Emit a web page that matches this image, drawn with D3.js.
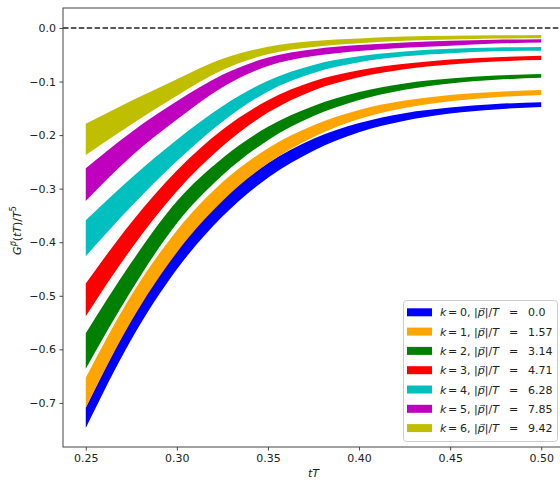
<!DOCTYPE html>
<html>
<head>
<meta charset="utf-8">
<script src="https://cdn.jsdelivr.net/npm/d3@7"></script>
<style>
body { margin: 0; background: #fff; }
svg { display: block; font-family: "DejaVu Sans", sans-serif; }
</style>
</head>
<body>
<div id="chart"></div>
<script>
var tT = [0.25, 0.275, 0.30, 0.325, 0.35, 0.375, 0.40, 0.425, 0.45, 0.475, 0.50];
var kValues = [0, 1, 2, 3, 4, 5, 6];
var pLabels = ["0.0", "1.57", "3.14", "4.71", "6.28", "7.85", "9.42"];
var colors = ["#0000ff", "#ffa500", "#008000", "#ff0000", "#00bfbf", "#bf00bf", "#bfbf00"];
// upper edge of each band (k = 0..6)
var bandTop = [
  [-0.709, -0.5445, -0.4155, -0.320, -0.2525, -0.207, -0.1775, -0.159, -0.1485, -0.142, -0.1385],
  [-0.653, -0.499, -0.378, -0.288, -0.2245, -0.1815, -0.153, -0.1355, -0.125, -0.1193, -0.116],
  [-0.570, -0.438, -0.3235, -0.243, -0.1845, -0.1455, -0.1195, -0.1035, -0.0945, -0.0888, -0.086],
  [-0.477, -0.363, -0.266, -0.190, -0.135, -0.0995, -0.079, -0.067, -0.059, -0.0545, -0.052],
  [-0.359, -0.280, -0.2085, -0.146, -0.0985, -0.069, -0.053, -0.044, -0.039, -0.0365, -0.0355],
  [-0.262, -0.1945, -0.137, -0.0875, -0.055, -0.0395, -0.032, -0.027, -0.024, -0.022, -0.021],
  [-0.179, -0.136, -0.0955, -0.0575, -0.035, -0.0245, -0.0195, -0.016, -0.0145, -0.0138, -0.013]
];
// lower edge of each band
var bandBottom = [
  [-0.747, -0.5815, -0.4505, -0.352, -0.2795, -0.229, -0.1945, -0.173, -0.1595, -0.152, -0.1475],
  [-0.709, -0.547, -0.419, -0.323, -0.2525, -0.2035, -0.170, -0.1495, -0.137, -0.1293, -0.125],
  [-0.636, -0.490, -0.3645, -0.275, -0.2095, -0.1645, -0.1345, -0.1155, -0.1035, -0.0968, -0.093],
  [-0.538, -0.412, -0.305, -0.221, -0.158, -0.1165, -0.092, -0.077, -0.068, -0.0625, -0.060],
  [-0.426, -0.333, -0.2485, -0.175, -0.1185, -0.084, -0.064, -0.053, -0.047, -0.0435, -0.0425],
  [-0.323, -0.2395, -0.171, -0.1105, -0.071, -0.0525, -0.043, -0.037, -0.033, -0.029, -0.027],
  [-0.237, -0.180, -0.1265, -0.0785, -0.049, -0.0355, -0.0285, -0.024, -0.0215, -0.0198, -0.019]
];
var xTicks = [0.25, 0.30, 0.35, 0.40, 0.45, 0.50];
var yTicks = [0.0, -0.1, -0.2, -0.3, -0.4, -0.5, -0.6, -0.7];

var W = 560, H = 480;
var mLeft = 63, mRight = 564, mTop = 8, mBottom = 447;

var svg = d3.select("#chart").append("svg")
  .attr("width", W)
  .attr("height", H);

var x = d3.scaleLinear().domain([0.2375, 0.5125]).range([mLeft, mRight]);
var y = d3.scaleLinear().domain([-0.7823, 0.0373]).range([mBottom, mTop]);

svg.append("defs").append("clipPath").attr("id", "clip")
  .append("rect")
  .attr("x", mLeft).attr("y", mTop)
  .attr("width", mRight - mLeft).attr("height", mBottom - mTop);

var plot = svg.append("g").attr("clip-path", "url(#clip)");

// zero line
plot.append("line")
  .attr("x1", mLeft).attr("x2", mRight)
  .attr("y1", y(0)).attr("y2", y(0))
  .attr("stroke", "#222")
  .attr("stroke-width", 1.5)
  .attr("stroke-dasharray", "5.5,2.4");

var area = d3.area()
  .x(function(d) { return x(d[0]); })
  .y0(function(d) { return y(d[1]); })
  .y1(function(d) { return y(d[2]); })
  .curve(d3.curveMonotoneX);

for (var k = 0; k < kValues.length; k++) {
  var pts = tT.map(function(t, i) { return [t, bandBottom[k][i], bandTop[k][i]]; });
  plot.append("path")
    .datum(pts)
    .attr("d", area)
    .attr("fill", colors[k]);
}

// axes
var xAxis = d3.axisBottom(x).tickValues(xTicks).tickSize(3.5).tickPadding(3.5)
  .tickFormat(d3.format(".2f"));
var yAxis = d3.axisLeft(y).tickValues(yTicks).tickSize(3.5).tickPadding(3.5)
  .tickFormat(function(d) { return d3.format(".1f")(d).replace("-", "\u2212"); });

var gx = svg.append("g").attr("transform", "translate(0," + mBottom + ")").call(xAxis);
var gy = svg.append("g").attr("transform", "translate(" + mLeft + ",0)").call(yAxis);
[gx, gy].forEach(function(g) {
  g.select(".domain").remove();
  g.selectAll("line").attr("stroke", "#333").attr("stroke-width", 0.9);
  g.selectAll("text").attr("fill", "#222").style("font-size", "11px").style("font-family", "DejaVu Sans");
});

// frame
svg.append("rect")
  .attr("x", mLeft).attr("y", mTop)
  .attr("width", mRight - mLeft).attr("height", mBottom - mTop)
  .attr("fill", "none")
  .attr("stroke", "#444")
  .attr("stroke-width", 1);

// axis labels
svg.append("text")
  .attr("x", (mLeft + mRight) / 2)
  .attr("y", 477)
  .attr("text-anchor", "middle")
  .style("font-size", "11px")
  .style("font-style", "italic")
  .attr("fill", "#222")
  .text("tT");

var yl = svg.append("text")
  .attr("transform", "translate(21," + ((mTop + mBottom) / 2 + 3) + ") rotate(-90)")
  .attr("text-anchor", "middle")
  .style("font-size", "11px")
  .attr("fill", "#222");
yl.append("tspan").style("font-style", "italic").text("G");
yl.append("tspan").style("font-style", "italic").style("font-size", "8px").attr("dy", -5).text("p\u20D7");
yl.append("tspan").attr("dy", 5).text("(");
yl.append("tspan").style("font-style", "italic").text("tT");
yl.append("tspan").text(")/");
yl.append("tspan").style("font-style", "italic").text("T");
yl.append("tspan").style("font-size", "8px").attr("dy", -5).text("5");

// legend
var lg = svg.append("g");
lg.append("rect")
  .attr("x", 403.5).attr("y", 300.5)
  .attr("width", 154).attr("height", 141)
  .attr("rx", 3)
  .attr("fill", "#fff")
  .attr("fill-opacity", 0.8)
  .attr("stroke", "#ccc")
  .attr("stroke-width", 1);

function legendText(xp, yp, anchor) {
  return lg.append("text")
    .attr("x", xp).attr("y", yp)
    .attr("text-anchor", anchor || "start")
    .style("font-size", "11px")
    .attr("fill", "#222");
}

for (var j = 0; j < kValues.length; j++) {
  var cy = 312.3 + j * 19.3;
  lg.append("rect")
    .attr("x", 407).attr("y", cy - 4)
    .attr("width", 25).attr("height", 8)
    .attr("fill", colors[j]);
  legendText(440, cy + 4).style("font-style", "italic").text("k");
  legendText(448, cy + 4).text("=");
  legendText(460, cy + 4).text(kValues[j] + ",");
  var t2 = legendText(474, cy + 4);
  t2.append("tspan").text("|");
  t2.append("tspan").style("font-style", "italic").text("p\u20D7");
  t2.append("tspan").text("|/");
  t2.append("tspan").style("font-style", "italic").text("T");
  legendText(509, cy + 4).text("=");
  legendText(528, cy + 4).text(pLabels[j]);
}
</script>
</body>
</html>
